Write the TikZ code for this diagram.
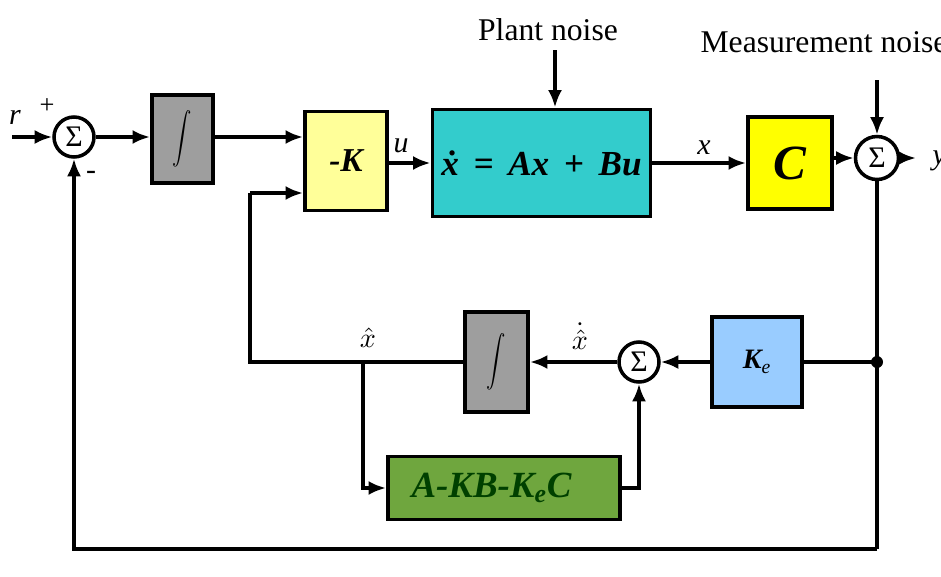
\documentclass[tikz,border=0pt]{standalone}
\usepackage{fontspec}
\usepackage{graphicx}
\setmainfont{Liberation Serif}
\usetikzlibrary{arrows.meta,positioning,calc}
\definecolor{intgray}{HTML}{9E9E9E}
\definecolor{gainyel}{HTML}{FFFF99}
\definecolor{plantteal}{HTML}{33CCCC}
\definecolor{outyel}{HTML}{FFFF00}
\definecolor{obsblue}{HTML}{99CCFF}
\definecolor{estgreen}{HTML}{6FA63E}
\newcommand{\intsign}{\scalebox{1.1}[1.45]{$\displaystyle\int$}}
\begin{document}
\begin{tikzpicture}[x=0.02cm,y=-0.02cm,>={Latex[length=10pt,width=8pt]},line width=2pt,
  blk/.style={draw,line width=2.2pt,inner sep=0pt},
  sum/.style={draw,circle,line width=2pt,minimum size=0.8cm,inner sep=0pt,font=\fontsize{17}{18}\selectfont},
  lbl/.style={font=\fontsize{17}{18}\selectfont\itshape}]
\useasboundingbox (0,0) rectangle (941,576);
\node[sum] (s1) at (74,137) {Σ};
\node[blk,fill=intgray,minimum width=1.22cm,minimum height=1.76cm] (i1) at (182.5,139) {\intsign};
\node[blk,fill=gainyel,minimum width=1.64cm,minimum height=1.98cm,font=\fontsize{19}{21}\selectfont\bfseries\itshape] (k) at (346,161) {-K};
\node[blk,fill=plantteal,minimum width=4.36cm,minimum height=2.14cm,font=\fontsize{20}{22}\selectfont\bfseries\itshape] (p) at (541.5,163) {ẋ\ \,=\ \,Ax\ \,+\ \,Bu};
\node[blk,fill=outyel,minimum width=1.68cm,minimum height=1.84cm,font=\fontsize{28}{30}\selectfont\bfseries\itshape] (c) at (790,163) {C};
\node[sum,minimum size=0.86cm] (s2) at (877,158) {Σ};
\node[blk,fill=obsblue,minimum width=1.8cm,minimum height=1.8cm,font=\fontsize{16}{18}\selectfont\bfseries\itshape] (ke) at (757,362) {K\textsubscript{\normalfont\itshape e}};
\node[sum] (s3) at (639,362) {Σ};
\node[blk,fill=intgray,minimum width=1.26cm,minimum height=2cm] (i2) at (496.5,362) {\intsign};
\node[blk,fill=estgreen,minimum width=4.64cm,minimum height=1.26cm,font=\fontsize{21}{23}\selectfont\bfseries\itshape,text=black!75!green] (g) at (504,488) {A-KB-K\textsubscript{e}C\hspace*{0.5cm}};
\node[font=\fontsize{18}{20}\selectfont] (pn) at (548,30) {Plant noise};
\node[font=\fontsize{18}{20}\selectfont,anchor=west] (mn) at (693,42) {Measurement noise};
\coordinate (rin) at (12,137);
\coordinate (pnt) at (555,50);
\coordinate (mnt) at (877,80);
\coordinate (yout) at (916,158);
\coordinate (fb) at (250,193);
\coordinate (tap) at (877,362);
\coordinate (br) at (363,362);
\coordinate (low) at (877,549);
\draw[->] (rin) -- (s1.west);
\draw[->] (s1.east) -- (s1.east -| i1.west);
\draw[->] (i1.east |- s1) -- (s1 -| k.west);
\draw[->] (k.east |- p) -- (p.west);
\draw[->] (pnt) -- (p.north -| pnt);
\draw[->] (p.east) -- (c.west);
\draw[->] (c.east |- s2) -- (s2.west);
\draw[->] (mnt) -- (s2.north);
\draw[->] (s2.east) -- (yout);
\draw (s2.south) -- (low);
\draw[->] (low) -| (s1.south);
\draw (ke.east) -- (tap);
\fill (tap) circle (6);
\draw[->] (ke.west) -- (s3.east);
\draw[->] (s3.west) -- (i2.east |- s3);
\draw (i2.west |- s3) -- (fb |- s3) -- (fb);
\draw[->] (fb) -- (fb -| k.west);
\draw[->] (br) |- (g.west);
\draw[->] (g.east) -| (s3.south);
\node[lbl] at (15,117) {r};
\node[font=\fontsize{15}{16}\selectfont] at (47,106) {+};
\node[font=\fontsize{17}{18}\selectfont] at (91,175) {-};
\node[lbl] at (401,146) {u};
\node[lbl] at (704,148) {x};
\node[lbl,anchor=west] at (925,161) {y};
\node at (368,338) {\scalebox{1.6}{$\hat{x}$}};
\node at (580,336) {\scalebox{1.6}{$\dot{\hat{x}}$}};
\end{tikzpicture}
\end{document}
